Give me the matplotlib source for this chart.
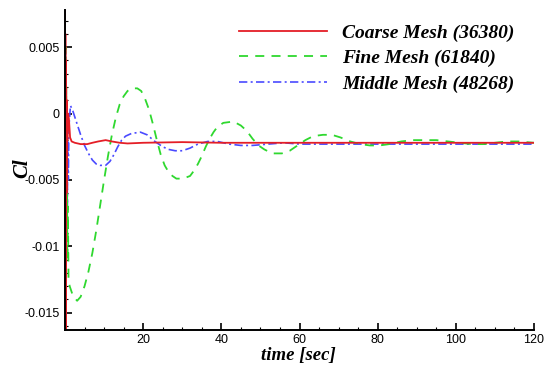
import numpy as np
import matplotlib.pyplot as plt
from matplotlib.ticker import MultipleLocator, FuncFormatter

# values: (time [sec], Cl)
coarse_t = [0.0, 0.05, 0.1, 0.15, 0.2, 0.25, 0.3, 0.4, 0.5, 0.6, 0.8, 1.0, 1.3, 1.7,
            2.5, 4.0, 5.7, 7.0, 8.5, 10.4, 12.0, 14.0, 16.0, 20.0, 30.0, 40.0,
            60.0, 80.0, 100.0, 120.0]
coarse_cl = [0.009, -0.018, 0.006, -0.017, 0.004, -0.012, 0.002, -0.006, 0.001, -0.002,
             0.0, -0.0004, -0.0018, -0.0021, -0.0022, -0.0023, -0.0023, -0.0022,
             -0.0021, -0.0020, -0.0021, -0.0022, -0.00225, -0.0022, -0.00215,
             -0.0022, -0.0022, -0.0022, -0.0022, -0.0022]

fine_t = [0.0, 0.08, 0.16, 0.24, 0.32, 0.4, 0.5, 0.6, 0.75, 0.9, 1.2, 2.0, 3.1, 4.0,
          5.0, 6.0, 7.0, 8.0, 9.0, 10.0, 11.0, 12.0, 13.0, 14.0, 15.0, 16.0, 17.0,
          18.5, 19.5, 20.5, 21.5, 22.5, 23.5, 24.5, 25.5, 26.5, 27.5, 28.5, 30.2,
          32.0, 33.0, 34.0, 35.0, 36.0, 37.0, 38.0, 39.0, 40.5, 43.1, 45.0, 46.5,
          48.0, 49.5, 51.0, 53.0, 55.5, 57.5, 59.5, 61.5, 63.5, 66.0, 68.3, 70.5,
          73.0, 75.5, 78.0, 80.5, 83.0, 86.0, 89.0, 92.0, 95.0, 98.0, 101.0,
          104.0, 107.0, 110.0, 113.0, 116.0, 120.0]
fine_cl = [0.007, -0.010, 0.005, -0.012, 0.002, -0.008, -0.002, -0.011, -0.007,
           -0.0125, -0.0130, -0.0137, -0.0141, -0.0138, -0.0130, -0.0119, -0.0105,
           -0.0088, -0.0069, -0.0050, -0.0032, -0.0016, -0.0003, 0.0007, 0.0013,
           0.0017, 0.0019, 0.0019, 0.0017, 0.0011, 0.0003, -0.0008, -0.0020,
           -0.0031, -0.0039, -0.0044, -0.0047, -0.0049, -0.0049, -0.0047, -0.0043,
           -0.0038, -0.0032, -0.0025, -0.0019, -0.0014, -0.0010, -0.0007, -0.0006,
           -0.0009, -0.0013, -0.0019, -0.0024, -0.0027, -0.0030, -0.0030, -0.0028,
           -0.0024, -0.0020, -0.0017, -0.0016, -0.0016, -0.0018, -0.0021, -0.0023,
           -0.0024, -0.0024, -0.0023, -0.0021, -0.0020, -0.0020, -0.0020, -0.0021,
           -0.0022, -0.0023, -0.0023, -0.0022, -0.0021, -0.0021, -0.0022]

middle_t = [0.0, 0.06, 0.12, 0.18, 0.24, 0.3, 0.36, 0.42, 0.5, 0.6, 0.7, 0.85, 1.0,
            1.4, 2.0, 3.0, 4.0, 5.0, 6.0, 7.0, 8.0, 9.0, 10.4, 11.5, 12.5, 13.5,
            14.5, 15.5, 17.0, 19.3, 21.0, 23.0, 25.0, 26.5, 28.2, 30.0, 32.0, 34.0,
            36.5, 39.0, 42.0, 45.0, 48.0, 52.0, 56.0, 60.0, 70.0, 80.0, 90.0, 100.0,
            110.0, 120.0]
middle_cl = [0.008, -0.011, 0.005, -0.0115, 0.003, -0.010, 0.001, -0.009, -0.001,
             -0.007, -0.002, -0.005, -0.001, 0.0006, 0.0002, -0.0007, -0.0016,
             -0.0024, -0.0030, -0.0035, -0.0038, -0.0039, -0.0039, -0.0036,
             -0.0031, -0.0025, -0.0020, -0.0017, -0.0015, -0.0014, -0.0016,
             -0.0021, -0.0025, -0.0027, -0.0028, -0.0028, -0.0026, -0.0023,
             -0.0021, -0.0021, -0.0023, -0.0024, -0.0024, -0.0023, -0.0022,
             -0.0023, -0.0023, -0.0023, -0.0023, -0.0023, -0.0023, -0.0023]

labels = ['Coarse Mesh (36380)', 'Fine Mesh (61840)', 'Middle Mesh (48268)']
x_major = [20, 40, 60, 80, 100, 120]
y_major = [0.005, 0.0, -0.005, -0.01, -0.015]

fig = plt.figure(figsize=(5.52, 3.65), dpi=100)
ax = fig.add_axes([65 / 552, 1 - 330 / 365, (534 - 65) / 552, 320 / 365])

ax.plot(coarse_t, coarse_cl, color='#e41e26', lw=1.3, label=labels[0], zorder=4)
ax.plot(fine_t, fine_cl, color='#2fd82f', lw=1.3, dashes=(5, 4), label=labels[1], zorder=3)
ax.plot(middle_t, middle_cl, color='#4a4aff', lw=1.2, dashes=(5, 2, 1.2, 2),
        label=labels[2], zorder=2)

ax.set_xlim(0, 120)
ax.set_ylim(-0.0163, 0.0078)
ax.set_xticks(x_major)
ax.set_yticks(y_major)
ax.xaxis.set_minor_locator(MultipleLocator(5))
ax.yaxis.set_minor_locator(MultipleLocator(0.001))
ax.yaxis.set_major_formatter(FuncFormatter(lambda v, p: '0' if abs(v) < 1e-12 else '%g' % v))

for s in ['top', 'right']:
    ax.spines[s].set_visible(False)
for s in ['left', 'bottom']:
    ax.spines[s].set_linewidth(1.4)
    ax.spines[s].set_zorder(5)

ax.tick_params(which='major', direction='in', length=5, width=1.2, labelsize=9,
               pad=4)
ax.tick_params(axis='x', which='major', pad=3)
ax.tick_params(which='minor', direction='in', length=2.5, width=0.8)
for lab in ax.get_xticklabels() + ax.get_yticklabels():
    lab.set_fontfamily('Liberation Sans')

ax.set_xlabel('time [sec]', fontfamily='Liberation Serif', fontsize=13.5,
              fontweight='bold', fontstyle='italic')
ax.xaxis.set_label_coords((298 - 65) / 469, -(347 - 330) / 320)
ax.set_ylabel('Cl', fontfamily='Liberation Serif', fontsize=15,
              fontweight='bold', fontstyle='italic')
ax.yaxis.set_label_coords(-(65 - 32) / 469, (330 - 168) / 320)

ax.legend(loc='upper left', bbox_to_anchor=(239 / 552, 1 - 24 / 365),
          bbox_transform=fig.transFigure, frameon=False, borderpad=0,
          borderaxespad=0, handlelength=4.5, handletextpad=0.8,
          labelspacing=0.4,
          prop={'family': 'Liberation Serif', 'weight': 'bold',
                'style': 'italic', 'size': 14})

fig.savefig('out.png', dpi=100)
